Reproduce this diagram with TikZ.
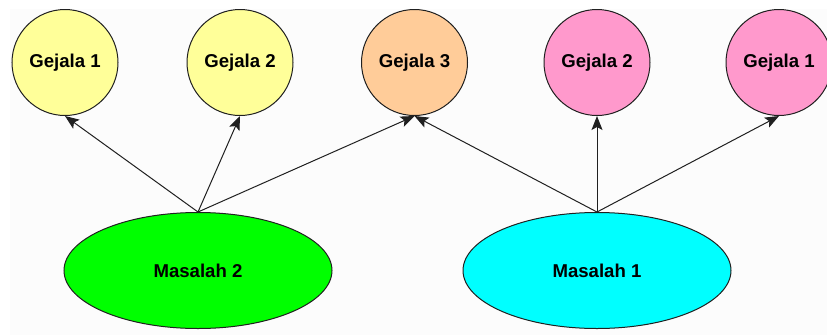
\documentclass[tikz,border=0pt]{standalone}
\usepackage{fontspec}
\setmainfont{Liberation Sans}
\usetikzlibrary{shapes.geometric,arrows.meta}
\definecolor{gyellow}{HTML}{FFFF99}
\definecolor{gorange}{HTML}{FFCC99}
\definecolor{gpink}{HTML}{FF99CC}
\definecolor{mgreen}{HTML}{00FF00}
\definecolor{mcyan}{HTML}{00FFFF}
\definecolor{edge}{HTML}{202020}
\definecolor{bgc}{HTML}{FCFCFC}
\begin{document}
\begin{tikzpicture}[x=1pt,y=-1pt,
  gejala/.style={circle,draw=edge,line width=1pt,minimum size=106pt,inner sep=0pt,font=\fontsize{18.6}{22}\selectfont\bfseries},
  masalah/.style={ellipse,draw=edge,line width=1pt,minimum width=268pt,minimum height=116pt,inner sep=0pt,font=\fontsize{18.6}{22}\selectfont\bfseries},
  link/.style={draw=edge,line width=1pt,-{Stealth[length=14pt,width=11pt,inset=3pt]}}]
\fill[white] (0,0) rectangle (827,335);
\fill[bgc] (10,9) rectangle (827,335);
\useasboundingbox (0,0) rectangle (827,335);
\node[gejala,fill=gyellow] (g1a) at (65,62.5) {Gejala 1};
\node[gejala,fill=gyellow] (g2a) at (240,62.5) {Gejala 2};
\node[gejala,fill=gorange] (g3) at (414.5,62.5) {Gejala 3};
\node[gejala,fill=gpink] (g2b) at (597,62.5) {Gejala 2};
\node[gejala,fill=gpink] (g1b) at (779,62.5) {Gejala 1};
\node[masalah,fill=mgreen] (m2) at (198,270.5) {Masalah 2};
\node[masalah,fill=mcyan] (m1) at (597,270.5) {Masalah 1};
\draw[link] (m2.north) -- (g1a.south);
\draw[link] (m2.north) -- (g2a.south);
\draw[link] (m2.north) -- (g3.south);
\draw[link] (m1.north) -- (g3.south);
\draw[link] (m1.north) -- (g2b.south);
\draw[link] (m1.north) -- (g1b.south);
\end{tikzpicture}
\end{document}
